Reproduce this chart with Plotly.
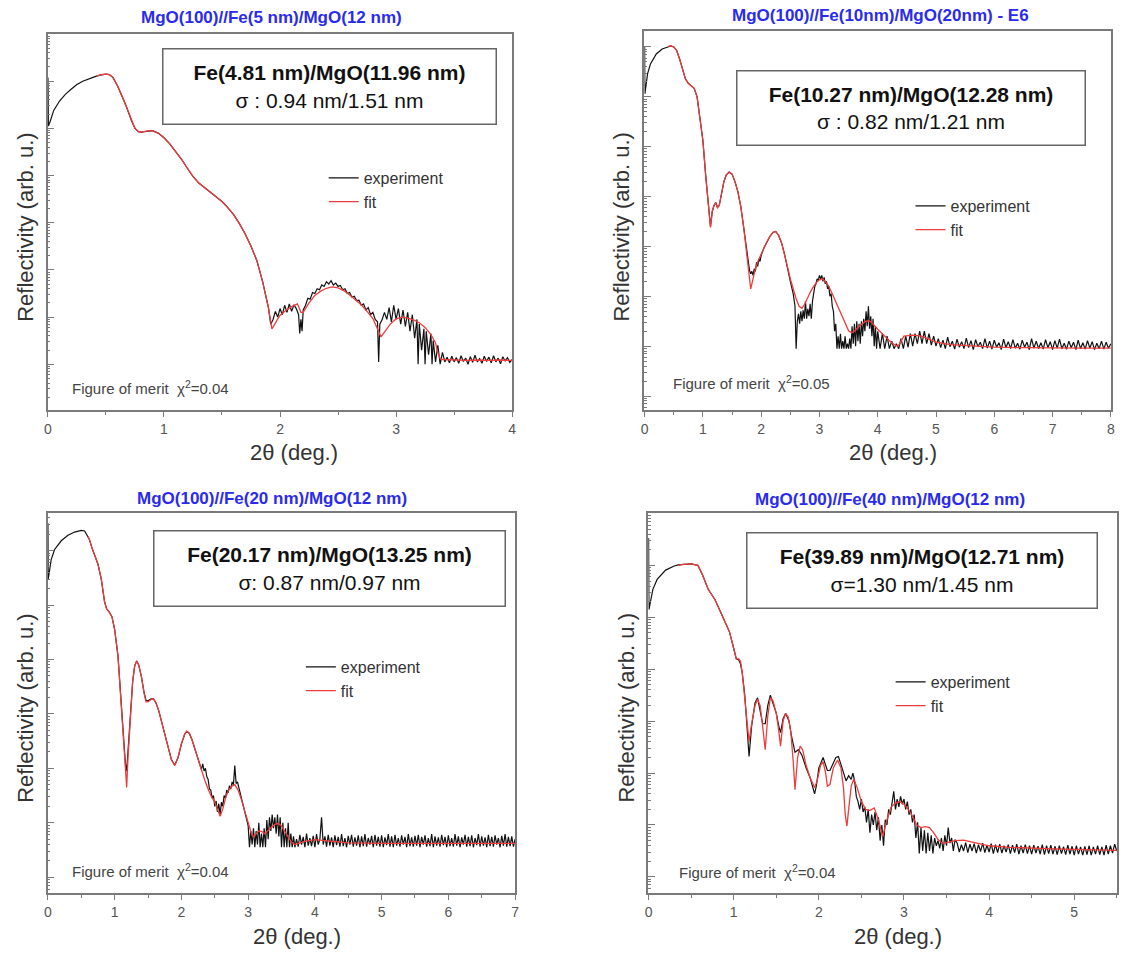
import math
import plotly.graph_objects as go

W, H = 1122, 953
FONT = "Liberation Sans, Arial, sans-serif"


def px(x):
    return x / W


def py(y):
    return 1 - y / H


# ---------------- data (y values in log10 of reflectivity, arb. u.) ----------------
# Panel 1 : MgO(100)//Fe(5 nm)/MgO(12 nm)
fit1_x = [0.42, 0.45, 0.5, 0.53, 0.56, 0.6, 0.64, 0.67, 0.7, 0.72,
          0.75, 0.78, 0.8, 0.85, 0.9, 0.95, 1.0, 1.05, 1.1, 1.15,
          1.2, 1.25, 1.3, 1.35, 1.4, 1.45, 1.5, 1.55, 1.6, 1.65,
          1.7, 1.75, 1.8, 1.85, 1.9, 1.93, 1.96, 2.0, 2.05, 2.1,
          2.15, 2.18, 2.2, 2.25, 2.3, 2.35, 2.4, 2.45, 2.5, 2.55,
          2.6, 2.65, 2.7, 2.75, 2.8, 2.84, 2.87, 2.9, 2.95, 3.0,
          3.05, 3.1, 3.15, 3.2, 3.25, 3.3, 3.34, 3.36, 3.38, 3.4,
          3.5, 3.6, 3.7, 3.8, 3.9, 4.0]
fit1_y = [6.1, 6.14, 6.15, 6.14, 6.08, 5.9, 5.68, 5.5, 5.3, 5.16,
          5.0, 4.93, 4.92, 4.94, 4.95, 4.9, 4.8, 4.67, 4.52, 4.35,
          4.16, 3.98, 3.84, 3.74, 3.66, 3.56, 3.45, 3.32, 3.17, 2.98,
          2.76, 2.5, 2.2, 1.75, 1.2, 0.75, 0.88, 1.04, 1.14, 1.22,
          1.28, 1.1, 1.1, 1.3, 1.46, 1.55, 1.61, 1.64, 1.62, 1.56,
          1.47, 1.37, 1.26, 1.12, 0.97, 0.75, 0.58, 0.68, 0.85, 0.96,
          1.0, 0.98, 0.94, 0.88, 0.78, 0.63, 0.45, 0.25, 0.12, 0.1,
          0.09, 0.08, 0.09, 0.08, 0.09, 0.08]
exp1_x = [0.0, 0.004, 0.02, 0.05, 0.1, 0.15, 0.2, 0.25, 0.3, 0.35,
          0.4, 0.45, 0.5, 0.53, 0.56, 0.6, 0.64, 0.67, 0.7, 0.72,
          0.75, 0.78, 0.8, 0.85, 0.9, 0.95, 1.0, 1.05, 1.1, 1.15,
          1.2, 1.25, 1.3, 1.35, 1.4, 1.45, 1.5, 1.55, 1.6, 1.65,
          1.7, 1.75, 1.8, 1.85, 1.9,
          1.92, 1.94, 1.96, 1.98, 2.0, 2.02, 2.04, 2.06, 2.08, 2.1, 2.12, 2.14, 2.16,
          2.17, 2.18, 2.19,
          2.2, 2.22, 2.24, 2.26, 2.28, 2.3, 2.32, 2.34, 2.36, 2.38, 2.4, 2.42, 2.44,
          2.46, 2.48, 2.5, 2.52, 2.54, 2.56, 2.58, 2.6, 2.62, 2.64, 2.66, 2.68, 2.7,
          2.72, 2.74, 2.76, 2.78, 2.8, 2.82, 2.84, 2.85,
          2.86, 2.88, 2.9, 2.92, 2.94, 2.96, 2.98, 3.0, 3.02, 3.04, 3.06, 3.08, 3.1,
          3.12, 3.14, 3.16, 3.18, 3.19, 3.2, 3.22, 3.24, 3.25, 3.26, 3.28, 3.3, 3.31,
          3.32, 3.34, 3.36, 3.38, 3.4, 3.42,
          3.44, 3.46, 3.48, 3.5, 3.52, 3.54, 3.56, 3.58, 3.6, 3.62, 3.64, 3.66, 3.68,
          3.7, 3.72, 3.74, 3.76, 3.78, 3.8, 3.82, 3.84, 3.86, 3.88, 3.9, 3.92, 3.94,
          3.96, 3.98, 4.0]
exp1_y = [6.08, 5.05, 5.15, 5.38, 5.58, 5.72, 5.83, 5.93, 6.0, 6.05,
          6.09, 6.13, 6.15, 6.14, 6.08, 5.9, 5.68, 5.5, 5.3, 5.16,
          5.0, 4.93, 4.92, 4.94, 4.95, 4.9, 4.8, 4.67, 4.52, 4.35,
          4.16, 3.98, 3.84, 3.74, 3.66, 3.56, 3.45, 3.32, 3.17, 2.98,
          2.76, 2.5, 2.2, 1.75, 1.2,
          0.85, 0.95, 1.12, 1.0, 1.18, 1.05, 1.25, 1.1, 1.28, 1.12, 1.26, 1.18, 1.05,
          0.65, 0.95, 0.7,
          1.15, 1.25, 1.4, 1.38, 1.52, 1.5, 1.6, 1.58, 1.68, 1.65, 1.75, 1.7, 1.77,
          1.68, 1.72, 1.65, 1.67, 1.58, 1.6, 1.5, 1.52, 1.42, 1.44, 1.35, 1.36, 1.25,
          1.28, 1.15, 1.2, 1.05, 1.1, 0.95, 0.9, 0.05,
          0.85, 0.95, 1.1, 0.95, 1.2, 0.9, 1.25, 0.95, 1.18, 0.85, 1.15, 0.8, 1.1,
          0.7, 1.05, 0.55, 0.95, 0.0, 0.85, 0.3, 0.75, 0.0, 0.7, 0.2, 0.65, 0.0,
          0.5, 0.05, 0.4, 0.0, 0.25, 0.05,
          0.15, 0.03, 0.17, 0.05, 0.14, 0.02, 0.18, 0.06, 0.13, 0.0, 0.16, 0.04, 0.19,
          0.05, 0.12, 0.02, 0.17, 0.06, 0.15, 0.03, 0.18, 0.05, 0.13, 0.01, 0.16, 0.07,
          0.14, 0.04, 0.1]

# Panel 2 : MgO(100)//Fe(10nm)/MgO(20nm) - E6
fit2_x = [0.4, 0.45, 0.5, 0.55, 0.6, 0.65, 0.7, 0.75, 0.8, 0.85,
          0.9, 0.95, 1.0, 1.05, 1.1, 1.13, 1.16, 1.19, 1.22, 1.25,
          1.28, 1.32, 1.36, 1.4, 1.45, 1.5, 1.55, 1.6, 1.65, 1.7,
          1.74, 1.77, 1.8, 1.82, 1.85, 1.9, 1.95, 2.0, 2.05, 2.1,
          2.15, 2.2, 2.25, 2.3, 2.35, 2.4, 2.45, 2.5, 2.55, 2.6,
          2.65, 2.7, 2.75, 2.8, 2.85, 2.9, 2.95, 3.0, 3.05, 3.1,
          3.15, 3.2, 3.25, 3.3, 3.35, 3.4, 3.45, 3.5, 3.55, 3.6,
          3.7, 3.8, 3.85, 3.9, 4.0, 4.1, 4.2, 4.3, 4.35, 4.4,
          4.45, 4.6, 4.75, 4.9, 5.0, 5.25, 5.5, 6.0, 6.5, 7.0,
          7.5, 8.0]
fit2_y = [7.01, 7.02, 7.0, 6.93, 6.76, 6.55, 6.36, 6.27, 6.22, 6.17,
          6.0, 5.6, 5.12, 4.39, 3.7, 3.38, 3.7, 3.82, 3.88, 3.78,
          3.82, 4.05, 4.3, 4.43, 4.49, 4.45, 4.3, 4.1, 3.8, 3.38,
          3.0, 2.72, 2.35, 2.15, 2.3, 2.55, 2.72, 2.85, 2.98, 3.1,
          3.2, 3.28, 3.3, 3.22, 3.07, 2.85, 2.6, 2.35, 2.12, 1.95,
          1.8, 1.76, 1.85, 1.98, 2.1, 2.2, 2.28, 2.33, 2.35, 2.3,
          2.22, 2.1, 1.97, 1.84, 1.71, 1.57, 1.43, 1.31, 1.27, 1.3,
          1.42, 1.5, 1.51, 1.47, 1.34, 1.22, 1.11, 1.02, 1.0, 1.1,
          1.2, 1.22, 1.2, 1.13, 1.08, 1.03, 1.01, 0.98, 0.97, 0.96,
          0.96, 0.96]
exp2_x = [0.0, 0.004, 0.05, 0.1, 0.2, 0.3, 0.4, 0.45, 0.5, 0.55,
          0.6, 0.65, 0.7, 0.75, 0.8, 0.85, 0.9, 0.95, 1.0, 1.05,
          1.1, 1.13, 1.16, 1.19, 1.22, 1.25, 1.28, 1.32, 1.36, 1.4,
          1.45, 1.5, 1.55, 1.6, 1.65, 1.7, 1.74, 1.77, 1.8, 1.82,
          1.84, 1.86, 1.88, 1.9, 1.92, 1.94, 1.96, 1.98, 2.0, 2.05,
          2.1, 2.15, 2.2, 2.25, 2.3, 2.35, 2.4, 2.45, 2.5, 2.55,
          2.58,
          2.6, 2.62, 2.64, 2.66, 2.68, 2.7, 2.72, 2.74, 2.76, 2.78,
          2.8, 2.82, 2.84, 2.86, 2.88, 2.9, 2.92, 2.94, 2.96, 2.98,
          3.0, 3.02, 3.04, 3.06, 3.08, 3.1, 3.12, 3.14, 3.16, 3.18,
          3.2, 3.22, 3.24, 3.26, 3.28, 3.3, 3.32, 3.34, 3.36, 3.38,
          3.4, 3.42, 3.44, 3.46, 3.48, 3.5, 3.52, 3.54, 3.56, 3.58,
          3.6, 3.62, 3.64, 3.66, 3.68, 3.7, 3.72, 3.74, 3.76, 3.78,
          3.8, 3.82, 3.84, 3.86, 3.88, 3.9, 3.92, 3.94, 3.96, 3.98,
          4.0,
          4.04, 4.08, 4.12, 4.16, 4.2, 4.24, 4.28, 4.32, 4.36, 4.4,
          4.44, 4.48, 4.52, 4.56, 4.6, 4.64, 4.68, 4.72, 4.76, 4.8,
          4.84, 4.88, 4.92, 4.96, 5.0,
          5.04, 5.08, 5.12, 5.16, 5.2, 5.24, 5.28, 5.32, 5.36, 5.4,
          5.44, 5.48, 5.52, 5.56, 5.6, 5.64, 5.68, 5.72, 5.76, 5.8,
          5.84, 5.88, 5.92, 5.96, 6.0, 6.04, 6.08, 6.12, 6.16, 6.2,
          6.24, 6.28, 6.32, 6.36, 6.4, 6.44, 6.48, 6.52, 6.56, 6.6,
          6.64, 6.68, 6.72, 6.76, 6.8, 6.84, 6.88, 6.92, 6.96, 7.0,
          7.04, 7.08, 7.12, 7.16, 7.2, 7.24, 7.28, 7.32, 7.36, 7.4,
          7.44, 7.48, 7.52, 7.56, 7.6, 7.64, 7.68, 7.72, 7.76, 7.8,
          7.84, 7.88, 7.92, 7.96, 8.0]
exp2_y = [7.0, 6.06, 6.46, 6.66, 6.86, 6.96, 7.0, 7.02, 7.0, 6.93,
          6.76, 6.55, 6.36, 6.27, 6.22, 6.17, 6.0, 5.6, 5.12, 4.39,
          3.7, 3.4, 3.7, 3.82, 3.88, 3.78, 3.82, 4.05, 4.3, 4.43,
          4.49, 4.45, 4.3, 4.1, 3.8, 3.38, 3.0, 2.75, 2.52, 2.45,
          2.5, 2.42, 2.55, 2.5, 2.68, 2.6, 2.75, 2.7, 2.82, 2.98,
          3.1, 3.2, 3.28, 3.3, 3.22, 3.07, 2.85, 2.55, 2.3, 2.05,
          1.8,
          0.95, 1.5, 1.65, 1.45, 1.7, 1.5, 1.72, 1.55, 1.9, 1.55,
          1.75, 1.6, 1.85, 1.55, 1.9, 2.05, 2.2, 2.25, 2.35, 2.32,
          2.42, 2.35, 2.42, 2.3, 2.38, 2.25, 2.3, 2.15, 2.2, 2.0,
          2.05, 1.8, 1.7, 1.3, 1.45, 0.95, 1.2, 0.95, 1.25, 0.95,
          1.1, 0.95, 1.2, 0.95, 1.05, 0.95, 1.15, 0.95, 1.4, 1.05,
          1.45, 1.0, 1.5, 1.1, 1.45, 1.05, 1.5, 1.2, 1.55, 1.3,
          1.7, 1.4, 1.8, 1.35, 1.6, 1.2, 1.55, 1.0, 1.4, 0.95,
          1.3,
          0.95, 1.25, 0.95, 1.2, 0.95, 1.1, 0.95, 1.05, 0.95, 1.15,
          0.95, 1.2, 0.98, 1.25, 1.0, 1.25, 1.05, 1.3, 1.05, 1.3,
          1.05, 1.25, 1.02, 1.2, 1.0,
          1.15, 0.97, 1.12, 0.95, 1.18, 0.99, 1.1, 0.94, 1.14, 0.98,
          1.09, 0.95, 1.16, 0.97, 1.11, 0.93, 1.13, 0.99, 1.08, 0.95,
          1.15, 0.96, 1.1, 0.94, 1.12, 0.98, 1.07, 0.93, 1.14, 0.97,
          1.09, 0.95, 1.13, 0.96, 1.06, 0.94, 1.12, 0.98, 1.08, 0.93,
          1.15, 0.96, 1.1, 0.95, 1.07, 0.94, 1.13, 0.97, 1.09, 0.93,
          1.11, 0.96, 1.14, 0.95, 1.06, 0.94, 1.1, 0.97, 1.08, 0.93,
          1.12, 0.95, 1.07, 0.94, 1.11, 0.96, 1.09, 0.93, 1.06, 0.95,
          1.1, 0.94, 1.08, 0.96, 1.05]

# Panel 3 : MgO(100)//Fe(20 nm)/MgO(12 nm)
fit3_x = [0.6, 0.62, 0.66, 0.7, 0.75, 0.8, 0.85, 0.88, 0.92, 0.96,
          1.0, 1.05, 1.1, 1.13, 1.16, 1.18, 1.2, 1.23, 1.27, 1.3,
          1.33, 1.36, 1.4, 1.44, 1.47, 1.5, 1.54, 1.58, 1.62, 1.66,
          1.7, 1.75, 1.8, 1.85, 1.9, 1.95, 2.0, 2.05, 2.08, 2.12,
          2.16, 2.2, 2.25, 2.3, 2.35, 2.4, 2.45, 2.5, 2.55, 2.58,
          2.62, 2.66, 2.7, 2.75, 2.8, 2.85, 2.9, 2.95, 3.0, 3.05,
          3.08, 3.12, 3.16, 3.2, 3.25, 3.3, 3.35, 3.4, 3.45, 3.5,
          3.55, 3.6, 3.65, 3.7, 3.75, 3.85, 4.0, 4.1, 4.2, 4.5,
          5.0, 5.5, 6.0, 6.5, 7.0]
fit3_y = [6.26, 6.21, 6.05, 5.9, 5.75, 5.47, 5.05, 4.93, 4.87, 4.78,
          4.55, 4.06, 3.14, 2.6, 2.0, 1.65, 2.2, 2.9, 3.6, 3.88,
          3.97, 3.9, 3.69, 3.38, 3.22, 3.22, 3.26, 3.28, 3.2, 3.06,
          2.88, 2.62, 2.38, 2.16, 2.05, 2.2, 2.45, 2.63, 2.68, 2.64,
          2.52, 2.36, 2.14, 1.95, 1.78, 1.62, 1.48, 1.38, 1.2, 1.12,
          1.25, 1.45, 1.58, 1.67, 1.7, 1.6, 1.42, 1.2, 0.99, 0.8,
          0.74, 0.8, 0.85, 0.84, 0.8, 0.86, 0.92, 0.97, 0.99, 0.94,
          0.84, 0.73, 0.64, 0.6, 0.62, 0.66, 0.69, 0.68, 0.67, 0.63,
          0.62, 0.62, 0.62, 0.62, 0.62]
exp3_x = [0.0, 0.004, 0.05, 0.1, 0.2, 0.3, 0.4, 0.5, 0.55, 0.6,
          0.62, 0.66, 0.7, 0.75, 0.8, 0.85, 0.88, 0.92, 0.96, 1.0,
          1.05, 1.1, 1.13, 1.16, 1.18, 1.2, 1.23, 1.27, 1.3, 1.33,
          1.36, 1.4, 1.44, 1.47, 1.5, 1.54, 1.58, 1.62, 1.66, 1.7,
          1.75, 1.8, 1.85, 1.9, 1.95, 2.0, 2.05, 2.08, 2.12, 2.16,
          2.2, 2.25,
          2.28, 2.3, 2.32, 2.34, 2.36, 2.38, 2.4, 2.42, 2.44, 2.46,
          2.48, 2.5, 2.52, 2.54, 2.56, 2.58, 2.6, 2.62, 2.64, 2.66,
          2.68, 2.7, 2.72, 2.74, 2.76, 2.78, 2.8, 2.82, 2.84, 2.86,
          2.88, 2.9, 2.92, 2.94, 2.96, 2.98, 3.0, 3.02, 3.04, 3.06,
          3.08, 3.1, 3.12, 3.14, 3.16, 3.18, 3.2, 3.22, 3.24, 3.26,
          3.28, 3.3, 3.32, 3.34, 3.36, 3.38, 3.4, 3.42, 3.44, 3.46,
          3.48, 3.5, 3.52, 3.54, 3.56, 3.58, 3.6, 3.62, 3.64, 3.66,
          3.68, 3.7,
          3.725, 3.75, 3.775, 3.8, 3.825, 3.85, 3.875, 3.9,
          3.925, 3.95, 3.975, 4.0, 4.025, 4.05, 4.075, 4.1,
          4.125, 4.15, 4.175, 4.2, 4.225, 4.25, 4.275, 4.3,
          4.325, 4.35, 4.375, 4.4, 4.425, 4.45, 4.475, 4.5,
          4.525, 4.55, 4.575, 4.6, 4.625, 4.65, 4.675, 4.7,
          4.725, 4.75, 4.775, 4.8, 4.825, 4.85, 4.875, 4.9,
          4.925, 4.95, 4.975, 5.0, 5.025, 5.05, 5.075, 5.1,
          5.125, 5.15, 5.175, 5.2, 5.225, 5.25, 5.275, 5.3,
          5.325, 5.35, 5.375, 5.4, 5.425, 5.45, 5.475, 5.5,
          5.525, 5.55, 5.575, 5.6, 5.625, 5.65, 5.675, 5.7,
          5.725, 5.75, 5.775, 5.8, 5.825, 5.85, 5.875, 5.9,
          5.925, 5.95, 5.975, 6.0, 6.025, 6.05, 6.075, 6.1,
          6.125, 6.15, 6.175, 6.2, 6.225, 6.25, 6.275, 6.3,
          6.325, 6.35, 6.375, 6.4, 6.425, 6.45, 6.475, 6.5,
          6.525, 6.55, 6.575, 6.6, 6.625, 6.65, 6.675, 6.7,
          6.725, 6.75, 6.775, 6.8, 6.825, 6.85, 6.875, 6.9,
          6.925, 6.95, 6.975, 7.0]
exp3_y = [6.5, 5.47, 5.84, 6.02, 6.18, 6.28, 6.34, 6.37, 6.36, 6.27,
          6.21, 6.05, 5.9, 5.75, 5.47, 5.05, 4.93, 4.87, 4.78, 4.55,
          4.06, 3.14, 2.6, 2.1, 1.95, 2.3, 2.9, 3.6, 3.88, 3.97,
          3.9, 3.69, 3.4, 3.25, 3.24, 3.27, 3.28, 3.2, 3.06, 2.88,
          2.62, 2.38, 2.16, 2.06, 2.2, 2.45, 2.63, 2.68, 2.64, 2.52,
          2.36, 2.16,
          2.05, 1.98, 2.08, 1.95, 2.0, 1.85, 1.8, 1.62, 1.6, 1.45,
          1.5, 1.3, 1.4, 1.2, 1.35, 1.15, 1.38, 1.3, 1.5, 1.45,
          1.6, 1.55, 1.68, 1.62, 1.75, 1.7, 2.05, 1.72, 1.75, 1.65,
          1.6, 1.5, 1.35, 1.3, 1.15, 1.05, 0.95, 0.55, 0.85, 0.6,
          0.9, 0.55, 0.85, 0.6, 1.0, 0.55, 0.8, 0.55, 0.9, 0.55,
          1.05, 0.7, 1.1, 0.85, 1.15, 0.9, 1.1, 0.8, 1.15, 0.75,
          1.1, 0.55, 1.0, 0.55, 0.9, 0.55, 1.0, 0.55, 0.8, 0.55,
          0.75, 0.55,
          0.7, 0.56, 0.78, 0.6, 0.74, 0.55, 0.8, 0.58,
          0.72, 0.57, 0.76, 0.55, 0.79, 0.6, 0.7, 1.1,
          0.6, 0.75, 0.56, 0.78, 0.58, 0.73, 0.55, 0.77,
          0.59, 0.74, 0.56, 0.79, 0.57, 0.72, 0.55, 0.76,
          0.6, 0.78, 0.56, 0.73, 0.58, 0.77, 0.55, 0.75,
          0.57, 0.79, 0.56, 0.72, 0.6, 0.76, 0.55, 0.78,
          0.58, 0.74, 0.56, 0.77, 0.55, 0.73, 0.59, 0.79,
          0.56, 0.75, 0.55, 0.78, 0.58, 0.72, 0.56, 0.77,
          0.6, 0.74, 0.55, 0.79, 0.57, 0.73, 0.56, 0.76,
          0.58, 0.78, 0.55, 0.74, 0.6, 0.77, 0.56, 0.72,
          0.57, 0.79, 0.55, 0.75, 0.58, 0.73, 0.56, 0.78,
          0.59, 0.74, 0.55, 0.77, 0.57, 0.72, 0.56, 0.79,
          0.58, 0.75, 0.55, 0.73, 0.6, 0.78, 0.56, 0.74,
          0.57, 0.77, 0.55, 0.72, 0.59, 0.79, 0.56, 0.75,
          0.58, 0.73, 0.55, 0.78, 0.57, 0.74, 0.56, 0.77,
          0.6, 0.72, 0.55, 0.76, 0.58, 0.79, 0.56, 0.74,
          0.57, 0.75, 0.56, 0.7]

# Panel 4 : MgO(100)//Fe(40 nm)/MgO(12 nm)
fit4_x = [0.35, 0.4, 0.5, 0.58, 0.63, 0.7, 0.78, 0.85, 0.9, 0.95,
          1.0, 1.03, 1.06, 1.08, 1.1, 1.13, 1.16, 1.18, 1.21, 1.25,
          1.28, 1.31, 1.34, 1.37, 1.4, 1.43, 1.46, 1.5, 1.53, 1.55,
          1.58, 1.61, 1.64, 1.67, 1.7, 1.72, 1.75, 1.78, 1.81, 1.85,
          1.9, 1.95, 1.98, 2.02, 2.05, 2.08, 2.1, 2.13, 2.17, 2.22,
          2.26, 2.29, 2.31, 2.33, 2.35, 2.38, 2.41, 2.45, 2.5, 2.55,
          2.6, 2.65, 2.7, 2.75, 2.8, 2.85, 2.9, 2.95, 3.0, 3.05,
          3.1, 3.15, 3.2, 3.25, 3.3, 3.35, 3.4, 3.45, 3.5, 3.6,
          3.7, 3.8, 4.0, 4.25, 4.5, 4.75, 5.0, 5.25, 5.5]
fit4_y = [6.0, 6.02, 6.03, 6.0, 5.83, 5.54, 5.34, 5.09, 4.9, 4.72,
          4.4, 4.2, 4.2, 4.15, 3.93, 3.48, 2.9, 2.6, 2.95, 3.3,
          3.42, 3.3, 2.9, 2.45, 3.1, 3.45, 3.4, 3.15, 2.8, 2.52,
          3.0, 3.15, 3.08, 2.8, 2.2, 1.68, 2.3, 2.52, 2.45, 2.15,
          1.9, 1.72, 1.85, 2.15, 2.22, 2.0, 1.75, 1.78, 2.1, 2.25,
          2.1, 1.7, 1.2, 0.98, 1.3, 1.75, 1.88, 1.72, 1.45, 1.3,
          1.28, 1.33, 1.1, 0.78, 1.1, 1.35, 1.42, 1.45, 1.4, 1.3,
          1.17, 1.0, 0.95, 0.97, 0.95, 0.85, 0.72, 0.65, 0.66, 0.7,
          0.71, 0.67, 0.6, 0.57, 0.55, 0.54, 0.53, 0.52, 0.51]
exp4_x = [0.0, 0.004, 0.05, 0.1, 0.2, 0.3, 0.35, 0.4, 0.5, 0.58,
          0.63, 0.7, 0.78, 0.85, 0.9, 0.95, 1.0, 1.03, 1.06, 1.08,
          1.1, 1.13, 1.16, 1.18, 1.21, 1.25, 1.28, 1.31, 1.34, 1.37,
          1.4, 1.43, 1.47, 1.5, 1.53, 1.55, 1.58, 1.61, 1.65, 1.68,
          1.72, 1.76, 1.8, 1.85, 1.9, 1.95, 1.97, 2.0, 2.05, 2.08,
          2.1, 2.13, 2.17, 2.2, 2.23, 2.26, 2.29, 2.32, 2.35, 2.38,
          2.4, 2.42, 2.44,
          2.46, 2.48, 2.5, 2.52, 2.54, 2.56, 2.58, 2.6, 2.62, 2.64,
          2.66, 2.68, 2.7, 2.72, 2.74, 2.76, 2.78, 2.8, 2.82, 2.84,
          2.86, 2.88, 2.9, 2.92, 2.94, 2.96, 2.98, 3.0, 3.02, 3.04,
          3.06, 3.08, 3.1, 3.12, 3.14, 3.16, 3.18, 3.2, 3.22, 3.24,
          3.26, 3.28, 3.3, 3.32, 3.34, 3.36, 3.38, 3.4, 3.42, 3.44,
          3.46, 3.48, 3.5, 3.52, 3.54, 3.56, 3.58, 3.6,
          3.625, 3.65, 3.675, 3.7, 3.725, 3.75, 3.775, 3.8,
          3.825, 3.85, 3.875, 3.9, 3.925, 3.95, 3.975, 4.0,
          4.025, 4.05, 4.075, 4.1, 4.125, 4.15, 4.175, 4.2,
          4.225, 4.25, 4.275, 4.3, 4.325, 4.35, 4.375, 4.4,
          4.425, 4.45, 4.475, 4.5, 4.525, 4.55, 4.575, 4.6,
          4.625, 4.65, 4.675, 4.7, 4.725, 4.75, 4.775, 4.8,
          4.825, 4.85, 4.875, 4.9, 4.925, 4.95, 4.975, 5.0,
          5.025, 5.05, 5.075, 5.1, 5.125, 5.15, 5.175, 5.2,
          5.225, 5.25, 5.275, 5.3, 5.325, 5.35, 5.375, 5.4,
          5.425, 5.45, 5.475, 5.5]
exp4_y = [6.53, 5.15, 5.54, 5.73, 5.91, 5.99, 6.01, 6.02, 6.03, 6.0,
          5.83, 5.54, 5.34, 5.09, 4.9, 4.72, 4.4, 4.2, 4.18, 4.1,
          3.93, 3.5, 2.8, 2.32, 2.9, 3.35, 3.45, 3.2, 2.95, 2.95,
          3.3, 3.5, 3.3, 3.15, 2.9, 2.78, 3.05, 3.15, 3.0, 2.7,
          2.4, 2.45, 2.35, 2.1, 1.9, 1.6, 1.75, 2.1, 2.3, 2.15,
          2.05, 2.05, 2.2, 2.3, 2.32, 2.15, 2.0, 1.85, 1.95, 1.88,
          2.0, 1.85, 1.55,
          1.45, 1.3, 1.5, 1.25, 1.35, 1.05, 1.3, 0.85, 1.2, 1.0,
          1.25, 0.9, 1.15, 0.7, 1.0, 0.6, 1.1, 1.0, 1.3, 1.2,
          1.45, 1.65, 1.3, 1.5, 1.35, 1.55, 1.4, 1.5, 1.3, 1.45,
          1.2, 1.3, 1.05, 1.2, 0.75, 1.05, 0.45, 0.95, 0.5, 0.9,
          0.45, 0.85, 0.5, 0.8, 0.45, 0.75, 0.6, 0.7, 0.55, 0.75,
          0.5, 0.8, 0.6, 0.95, 0.65, 0.75, 0.5, 0.72,
          0.65, 0.48, 0.62, 0.5, 0.66, 0.47, 0.63, 0.5,
          0.64, 0.46, 0.62, 0.49, 0.65, 0.47, 0.61, 0.48,
          0.64, 0.45, 0.62, 0.47, 0.63, 0.46, 0.6, 0.48,
          0.62, 0.45, 0.61, 0.47, 0.63, 0.44, 0.6, 0.46,
          0.62, 0.45, 0.6, 0.44, 0.61, 0.46, 0.59, 0.44,
          0.62, 0.43, 0.6, 0.45, 0.61, 0.44, 0.59, 0.43,
          0.6, 0.45, 0.58, 0.43, 0.61, 0.44, 0.59, 0.42,
          0.6, 0.44, 0.58, 0.42, 0.59, 0.43, 0.6, 0.42,
          0.58, 0.44, 0.6, 0.43, 0.58, 0.42, 0.61, 0.44,
          0.6, 0.46, 0.63, 0.5]

titles = ["MgO(100)//Fe(5 nm)/MgO(12 nm)",
          "MgO(100)//Fe(10nm)/MgO(20nm) - E6",
          "MgO(100)//Fe(20 nm)/MgO(12 nm)",
          "MgO(100)//Fe(40 nm)/MgO(12 nm)"]
box_line1 = ["Fe(4.81 nm)/MgO(11.96 nm)", "Fe(10.27 nm)/MgO(12.28 nm)",
             "Fe(20.17 nm)/MgO(13.25 nm)", "Fe(39.89 nm)/MgO(12.71 nm)"]
box_line2 = ["\u03c3 : 0.94 nm/1.51 nm", "\u03c3 : 0.82 nm/1.21 nm",
             "\u03c3: 0.87 nm/0.97 nm", "\u03c3=1.30 nm/1.45 nm"]
chi2 = ["0.04", "0.05", "0.04", "0.04"]
x_max = [4, 8, 7, 5.5]

for a, b in [(fit1_x, fit1_y), (exp1_x, exp1_y), (fit2_x, fit2_y), (exp2_x, exp2_y),
             (fit3_x, fit3_y), (exp3_x, exp3_y), (fit4_x, fit4_y), (exp4_x, exp4_y)]:
    assert len(a) == len(b), (len(a), len(b))

# ---------------- layout geometry (pixels) ----------------
panels = [
    dict(fx=fit1_x, fy=fit1_y, ex=exp1_x, ey=exp1_y, xd=(44, 512), yd=(34, 410),
         yr=(-0.97, 7.0), ymaj=7, title=(269, 18), box=(160, 495, 48, 125),
         leg=(322, 190), fom=(66, 387), xt=(292, 453), yt=(21, 227)),
    dict(fx=fit2_x, fy=fit2_y, ex=exp2_x, ey=exp2_y, xd=(645, 1115), yd=(31, 410),
         yr=(-0.28, 7.32), ymaj=8, title=(883, 15), box=(739, 1089, 70, 146),
         leg=(913, 218), fom=(672, 383), xt=(895, 453), yt=(621, 227)),
    dict(fx=fit3_x, fy=fit3_y, ex=exp3_x, ey=exp3_y, xd=(44, 515), yd=(513, 893),
         yr=(-0.29, 6.69), ymaj=7, title=(270, 498), box=(151, 504, 530, 607),
         leg=(299, 679), fom=(66, 870), xt=(295, 936), yt=(21, 708)),
    dict(fx=fit4_x, fy=fit4_y, ex=exp4_x, ey=exp4_y, xd=(649, 1121), yd=(513, 893),
         yr=(-0.31, 7.01), ymaj=7, title=(892, 499), box=(749, 1101, 532, 609),
         leg=(893, 694), fom=(678, 871), xt=(900, 936), yt=(626, 708)),
]

AXIS_COLOR = "#7a7a7a"
fig = go.Figure()
annotations = []
layout = dict(width=W, height=H, margin=dict(l=0, r=0, t=0, b=0),
              paper_bgcolor="white", plot_bgcolor="white",
              font=dict(family=FONT, color="#333"))

for i, p in enumerate(panels, start=1):
    sfx = "" if i == 1 else str(i)
    legname = "legend" if i == 1 else f"legend{i}"
    fig.add_trace(go.Scatter(x=p["ex"], y=[10 ** v for v in p["ey"]], mode="lines",
                             line=dict(color="#111111", width=1.2), name="experiment",
                             xaxis=f"x{sfx}", yaxis=f"y{sfx}", legend=legname))
    fig.add_trace(go.Scatter(x=p["fx"], y=[10 ** v for v in p["fy"]], mode="lines",
                             line=dict(color="#f03c3c", width=1.3), name="fit",
                             xaxis=f"x{sfx}", yaxis=f"y{sfx}", legend=legname))
    lo, hi = p["yr"]
    maj = [10 ** k for k in range(0, p["ymaj"])]
    minor = []
    for k in range(-1, 8):
        for m in range(2, 10):
            v = m * 10 ** k
            if lo < math.log10(v) < hi:
                minor.append(v)
    xm = x_max[i - 1]
    layout[f"xaxis{sfx}"] = dict(
        domain=[px(p["xd"][0]), px(p["xd"][1])], anchor=f"y{sfx}",
        range=[-0.0005 * xm, 1.0005 * xm], dtick=1, tick0=0, ticks="outside", ticklen=5,
        tickwidth=1.2, tickcolor=AXIS_COLOR, showline=True, linecolor=AXIS_COLOR,
        linewidth=1.6, mirror=True, showgrid=False, zeroline=False,
        tickfont=dict(size=14, color="#555"),
        minor=dict(dtick=0.5, tick0=0, ticks="outside", ticklen=3, tickcolor=AXIS_COLOR),
    )
    layout[f"yaxis{sfx}"] = dict(
        domain=[py(p["yd"][1]), py(p["yd"][0])], anchor=f"x{sfx}", type="log",
        range=[lo, hi], tickmode="array", tickvals=maj, showticklabels=False,
        ticks="inside", ticklen=7, tickwidth=1.2, tickcolor=AXIS_COLOR,
        showline=True, linecolor=AXIS_COLOR, linewidth=1.6, mirror=True,
        showgrid=False, zeroline=False,
        minor=dict(tickmode="array", tickvals=minor, ticks="inside", ticklen=3,
                   tickcolor=AXIS_COLOR, showgrid=False),
    )
    layout[legname] = dict(x=px(p["leg"][0]), y=py(p["leg"][1]), xanchor="left",
                           yanchor="middle", bgcolor="rgba(0,0,0,0)",
                           font=dict(size=16, color="#333", family=FONT),
                           itemwidth=30, tracegroupgap=0)
    annotations.append(dict(text=f"<b>{titles[i - 1]}</b>", x=px(p["title"][0]),
                            y=py(p["title"][1]), xref="paper", yref="paper",
                            xanchor="center", yanchor="middle", showarrow=False,
                            font=dict(size=17, color="#2a2af0", family=FONT)))
    x0, x1, y0, y1 = p["box"]
    annotations.append(dict(text=f"<b>{box_line1[i - 1]}</b><br>{box_line2[i - 1]}",
                            x=px((x0 + x1) / 2), y=py((y0 + y1) / 2), xref="paper",
                            yref="paper", xanchor="center", yanchor="middle",
                            showarrow=False, width=x1 - x0 - 3, height=y1 - y0 - 3,
                            borderpad=0, bordercolor="#666", borderwidth=1.5,
                            bgcolor="white",
                            font=dict(size=21, color="#111", family=FONT)))
    annotations.append(dict(text=f"Figure of merit  \u03c7<sup>2</sup>={chi2[i - 1]}",
                            x=px(p["fom"][0]), y=py(p["fom"][1]), xref="paper",
                            yref="paper", xanchor="left", yanchor="middle",
                            showarrow=False, font=dict(size=15, color="#444", family=FONT)))
    annotations.append(dict(text="2\u03b8 (deg.)", x=px(p["xt"][0]), y=py(p["xt"][1]),
                            xref="paper", yref="paper", xanchor="center",
                            yanchor="middle", showarrow=False,
                            font=dict(size=22, color="#333", family=FONT)))
    annotations.append(dict(text="Reflectivity (arb. u.)", x=px(p["yt"][0]),
                            y=py(p["yt"][1]), xref="paper", yref="paper",
                            xanchor="center", yanchor="middle", textangle=-90,
                            showarrow=False, font=dict(size=22, color="#333", family=FONT)))

layout["annotations"] = annotations
layout["showlegend"] = True
fig.update_layout(**layout)
fig.write_html("out.html",
               config={"displayModeBar": False},
               post_script="document.body.style.margin='0';"
                           "document.body.style.padding='0';"
                           "document.body.style.overflow='hidden';")
